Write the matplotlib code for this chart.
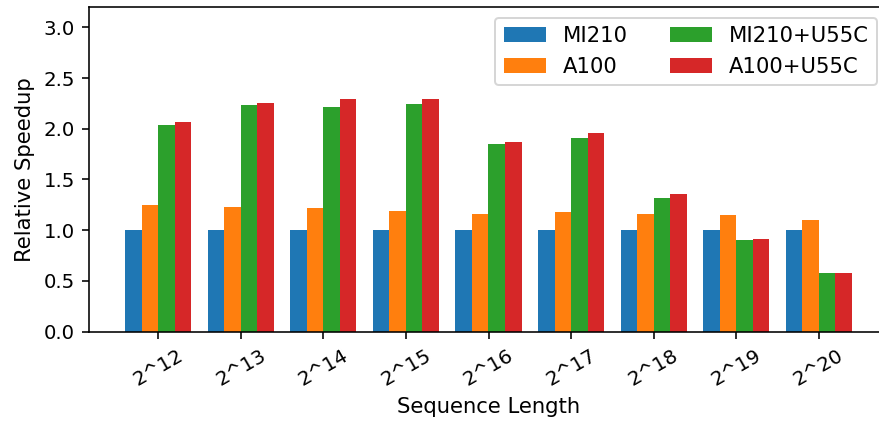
import numpy as np
import matplotlib.pyplot as plt

seq_labels = ['2^12', '2^13', '2^14', '2^15', '2^16', '2^17', '2^18', '2^19', '2^20']
mi210 = [1.0, 1.0, 1.0, 1.0, 1.0, 1.0, 1.0, 1.0, 1.0]
a100 = [1.25, 1.225, 1.22, 1.186, 1.16, 1.176, 1.156, 1.149, 1.099]
mi210_u55c = [2.035, 2.236, 2.21, 2.246, 1.852, 1.905, 1.32, 0.90, 0.575]
a100_u55c = [2.062, 2.253, 2.296, 2.29, 1.872, 1.962, 1.356, 0.91, 0.582]

series = [('MI210', mi210), ('A100', a100), ('MI210+U55C', mi210_u55c), ('A100+U55C', a100_u55c)]

# original looks like a dpi ~144 render cropped on the right
fig = plt.figure(figsize=(879 / 144, 425 / 144), dpi=144)
ax = fig.add_axes([89 / 879, 93.3 / 425, 799 / 879, 324.7 / 425])

x = np.arange(len(seq_labels))
width = 0.2
for i, (name, vals) in enumerate(series):
    ax.bar(x + (i - 1.5) * width, vals, width, label=name)

ax.set_xlim(-0.84, 8.84)
ax.set_ylim(0, 3.2)
ax.set_xticks(x)
ax.set_xticklabels(seq_labels, rotation=30)
ax.tick_params(labelsize=9.9)
ax.set_xlabel('Sequence Length', fontsize=10.55)
ax.set_ylabel('Relative Speedup', fontsize=10.55)
ax.legend(ncol=2, fontsize=10.55, loc='upper right')

fig.savefig('out.png', dpi=144)
